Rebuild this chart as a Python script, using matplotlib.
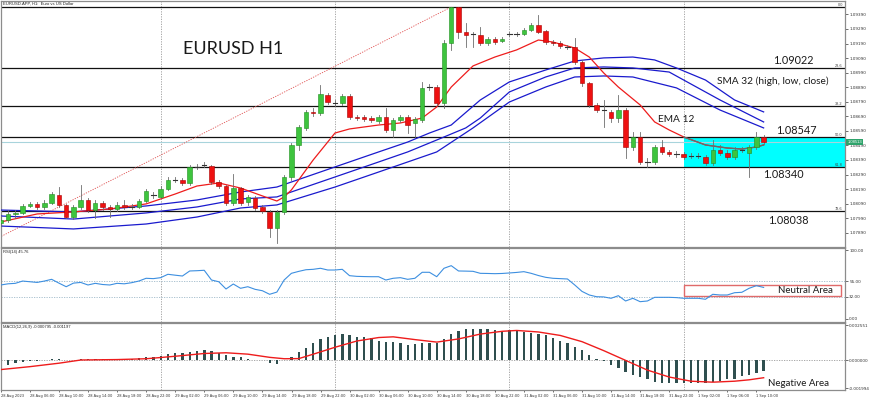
import matplotlib
matplotlib.use('Agg')
import matplotlib.pyplot as plt
from matplotlib.patches import Rectangle

# ---------------- data ----------------
open_ = [1.07957,1.07978,1.08019,1.08026,1.08074,1.08088,1.08067,1.08094,1.08149,1.08081,
         1.07998,1.08067,1.08115,1.08046,1.08094,1.08067,1.08053,1.08081,1.08067,1.08067,
         1.08108,1.08143,1.08136,1.08191,1.08252,1.08252,1.08232,1.08342,1.08355,1.08349,
         1.08239,1.08211,1.08094,1.08197,1.08101,1.08129,1.08067,1.08033,1.07923,1.08033,
         1.08273,1.08493,1.08610,1.08720,1.08713,1.08836,1.08781,1.08781,1.08830,1.08685,
         1.08685,1.08678,1.08658,1.08685,1.08596,1.08665,1.08685,1.08644,1.08665,1.08891,
         1.08891,1.08781,1.09194,1.09441,1.09269,1.09249,1.09249,1.09194,1.09221,1.09207,
         1.09255,1.09255,1.09255,1.09283,1.09317,1.09276,1.09200,1.09194,1.09166,1.09166,
         1.09063,1.08919,1.08768,1.08733,1.08720,1.08678,1.08733,1.08479,1.08548,1.08376,
         1.08376,1.08479,1.08445,1.08431,1.08431,1.08417,1.08417,1.08410,1.08369,1.08458,
         1.08438,1.08410,1.08458,1.08438,1.08479,1.08548]
close = [1.07978,1.08019,1.08026,1.08074,1.08088,1.08067,1.08094,1.08156,1.08081,1.07998,
         1.08067,1.08115,1.08046,1.08094,1.08067,1.08053,1.08081,1.08067,1.08070,1.08108,
         1.08177,1.08146,1.08191,1.08252,1.08255,1.08232,1.08342,1.08345,1.08358,1.08239,
         1.08211,1.08094,1.08197,1.08094,1.08136,1.08060,1.08039,1.07923,1.08033,1.08273,
         1.08493,1.08617,1.08720,1.08713,1.08843,1.08788,1.08784,1.08830,1.08685,1.08678,
         1.08671,1.08665,1.08685,1.08596,1.08665,1.08685,1.08630,1.08671,1.08885,1.08894,
         1.08781,1.09194,1.09441,1.09269,1.09249,1.09252,1.09194,1.09221,1.09200,1.09221,
         1.09258,1.09258,1.09283,1.09317,1.09269,1.09200,1.09194,1.09173,1.09169,1.09063,
         1.08919,1.08768,1.08733,1.08736,1.08678,1.08733,1.08479,1.08548,1.08376,1.08379,
         1.08479,1.08445,1.08431,1.08434,1.08410,1.08420,1.08420,1.08369,1.08458,1.08438,
         1.08410,1.08458,1.08461,1.08479,1.08548,1.08513]
high = [1.08005,1.08046,1.08046,1.08088,1.08101,1.08101,1.08115,1.08170,1.08204,1.08088,
        1.08081,1.08218,1.08129,1.08115,1.08108,1.08081,1.08101,1.08115,1.08088,1.08122,
        1.08191,1.08170,1.08211,1.08273,1.08273,1.08266,1.08355,1.08362,1.08376,1.08355,
        1.08252,1.08218,1.08294,1.08204,1.08149,1.08143,1.08081,1.08046,1.08046,1.08287,
        1.08506,1.08630,1.08733,1.08747,1.08905,1.08850,1.08802,1.08843,1.08843,1.08699,
        1.08699,1.08692,1.08699,1.08747,1.08678,1.08699,1.08699,1.08685,1.08926,1.08912,
        1.08905,1.09214,1.09441,1.09441,1.09331,1.09269,1.09304,1.09235,1.09235,1.09235,
        1.09269,1.09269,1.09297,1.09331,1.09386,1.09283,1.09214,1.09207,1.09180,1.09228,
        1.09077,1.08926,1.08781,1.08802,1.08733,1.08836,1.08747,1.08582,1.08582,1.08404,
        1.08493,1.08527,1.08458,1.08452,1.08445,1.08438,1.08438,1.08424,1.08527,1.08493,
        1.08458,1.08479,1.08479,1.08493,1.08582,1.08561]
low = [1.07936,1.07964,1.07991,1.08019,1.08067,1.08053,1.08053,1.08088,1.08067,1.07991,
       1.07984,1.08053,1.08033,1.07991,1.08046,1.07998,1.08039,1.08053,1.08053,1.08060,
       1.08101,1.08129,1.08129,1.08184,1.08239,1.08218,1.08218,1.08328,1.08342,1.08225,
       1.08197,1.08081,1.08081,1.08081,1.08081,1.08046,1.08026,1.07861,1.07820,1.08019,
       1.08252,1.08458,1.08596,1.08692,1.08699,1.08775,1.08761,1.08768,1.08671,1.08665,
       1.08658,1.08651,1.08644,1.08582,1.08548,1.08651,1.08575,1.08548,1.08651,1.08871,
       1.08768,1.08747,1.09146,1.09228,1.09166,1.09166,1.09180,1.09180,1.09187,1.09200,
       1.09242,1.09242,1.09249,1.09276,1.09262,1.09187,1.09180,1.09159,1.09153,1.09049,
       1.08898,1.08754,1.08720,1.08617,1.08651,1.08651,1.08404,1.08458,1.08362,1.08342,
       1.08362,1.08431,1.08417,1.08410,1.08397,1.08404,1.08404,1.08355,1.08355,1.08424,
       1.08397,1.08397,1.08445,1.08273,1.08465,1.08500]

# EMA 12 (read at selected bars)
ema_idx = [0,5,10,15,20,24,27,30,33,36,38,39,40,43,46,48,52,55,58,60,62,65,68,71,74,76,79,81,83,85,88,90,92,94,97,100,102,104,105]
ema_val = [1.07964,1.08019,1.08033,1.08053,1.08088,1.08156,1.08211,1.08232,1.08197,1.08143,1.08108,1.08136,1.08184,
           1.08390,1.08575,1.08603,1.08630,1.08644,1.08678,1.08754,1.08891,1.09036,1.09097,1.09146,1.09214,1.09200,
           1.09159,1.09097,1.08987,1.08891,1.08768,1.08651,1.08596,1.08548,1.08493,1.08472,1.08465,1.08479,1.08493]

# SMA 32 of high / close / low
smah_idx = [0,10,20,27,33,38,46,52,56,59,62,66,70,75,79,83,87,90,93,97,101,105]
smah_val = [1.08046,1.08033,1.08074,1.08115,1.08170,1.08204,1.08342,1.08445,1.08513,1.08575,1.08630,1.08802,
            1.08926,1.09008,1.09070,1.09091,1.09097,1.09077,1.09022,1.08939,1.08802,1.08720]
smac_idx = [0,10,20,27,33,38,46,52,56,60,64,66,70,75,79,83,87,92,94,99,105]
smac_val = [1.08005,1.07984,1.08026,1.08067,1.08122,1.08136,1.08273,1.08376,1.08445,1.08527,1.08610,1.08678,
            1.08857,1.08960,1.09022,1.09029,1.09022,1.08994,1.08939,1.08802,1.08651]
smal_idx = [0,10,20,27,33,38,46,52,56,60,65,70,75,79,83,87,93,99,105]
smal_val = [1.07936,1.07916,1.07950,1.07998,1.08060,1.08081,1.08204,1.08307,1.08376,1.08445,1.08610,1.08788,
            1.08891,1.08960,1.08967,1.08960,1.08885,1.08733,1.08610]

# Fibonacci retracement
fib_prices = [1.09441, 1.09022, 1.08761, 1.08547, 1.08340, 1.08038]
fib_labels = ['0.0', '23.6', '38.2', '50.0', '61.8', '78.6']
trend_idx = [-8, 62]
trend_val = [1.07660, 1.09441]
last_price = 1.08513

# RSI(14)
rsi = [49.3,51,51.7,55,54,53,55,57.5,52,46.8,52,53,49.3,51.7,50,49.3,51.7,51,52.6,55,
       59,58.5,59.9,64.8,63.5,62.3,69.6,70,70.6,56.5,54,43.5,50.7,44.5,46.8,43,41,35.8,39,56.5,
       66.2,69,71.4,72,73.5,71,71,72,62.8,61.8,61.5,61.3,61.3,56.5,59,59.9,57.5,59,67.7,67.7,
       61.3,73.5,77.3,69.6,69.4,69.1,66.2,66,65.7,66,66.7,67.5,68.6,66.2,63,60.4,59,58.5,58,49.3,
       40,34.8,32.3,32,30,33.8,26.1,30,25.1,26.1,31.4,31.4,31.4,31,30,30,30,28.6,35.8,34.8,
       34.8,38.1,38.7,44.5,48.3,45.76]
rsi_levels = [55.0, 32.0]

# MACD(12,26,9)
macd = [-0.00031,-0.00031,-0.00019,-0.00014,-0.00007,-0.00002,0.00002,0.00012,0.00009,0.00005,
        0.00005,0.00009,0.00009,0.00007,0.00009,0.00007,0.00009,0.00009,0.00012,0.00017,
        0.00024,0.00028,0.00035,0.00045,0.00052,0.00057,0.00064,0.00071,0.00076,0.00069,
        0.00052,0.00040,0.00028,0.00021,0.00012,0.00005,0.00001,-0.00019,-0.00024,0.00001,
        0.00021,0.00059,0.00092,0.00123,0.00151,0.00170,0.00182,0.00189,0.00182,0.00170,
        0.00170,0.00165,0.00142,0.00135,0.00130,0.00123,0.00111,0.00118,0.00123,0.00128,
        0.00123,0.00151,0.00194,0.00213,0.00224,0.00229,0.00229,0.00224,0.00217,0.00210,
        0.00217,0.00213,0.00206,0.00198,0.00194,0.00182,0.00165,0.00142,0.00123,0.00099,
        0.00076,0.00040,0.00009,-0.00007,-0.00031,-0.00054,-0.00085,-0.00102,-0.00118,-0.00137,
        -0.00154,-0.00161,-0.00161,-0.00161,-0.00165,-0.00165,-0.00161,-0.00161,-0.00154,-0.00149,
        -0.00137,-0.00132,-0.00113,-0.00102,-0.00090,-0.00078]
sig_idx = [0,4,8,11,16,20,24,28,31,34,37,39,41,43,46,49,52,54,57,60,63,66,69,71,74,77,80,83,86,89,92,95,98,101,103,105]
sig_val = [-0.00066,-0.00045,-0.00020,0.00003,0.00006,0.00012,0.00030,0.00050,0.00055,0.00045,0.00022,0.00012,
           0.00013,0.00045,0.00095,0.00140,0.00165,0.00170,0.00150,0.00132,0.00155,0.00190,0.00210,0.00216,
           0.00205,0.00180,0.00135,0.00070,0.00000,-0.00070,-0.00120,-0.00150,-0.00157,-0.00150,-0.00140,-0.00125]

time_labels = ['28 Aug 2023','28 Aug 06:00','28 Aug 10:00','28 Aug 14:00','28 Aug 18:00','28 Aug 22:00',
               '29 Aug 02:00','29 Aug 06:00','29 Aug 10:00','29 Aug 14:00','29 Aug 18:00','29 Aug 22:00',
               '30 Aug 02:00','30 Aug 06:00','30 Aug 10:00','30 Aug 14:00','30 Aug 18:00','30 Aug 22:00',
               '31 Aug 02:00','31 Aug 06:00','31 Aug 10:00','31 Aug 14:00','31 Aug 18:00','31 Aug 22:00',
               '1 Sep 02:00','1 Sep 06:00','1 Sep 10:00']
day_lines = [22, 46, 70, 94]
price_ticks = [1.07890,1.07990,1.08090,1.08190,1.08290,1.08390,1.08490,1.08590,1.08690,1.08790,
               1.08890,1.08990,1.09090,1.09190,1.09290,1.09390]
macd_ticks = [0.002551, 0.0, -0.001994]

# ---------------- figure ----------------
W, H = 870, 400
fig = plt.figure(figsize=(W/100, H/100), dpi=100)

def px_axes(x0, y0, x1, y1):
    return fig.add_axes([x0/W, 1-y1/H, (x1-x0)/W, (y1-y0)/H])

ax = px_axes(1, 1, 845, 247)
ax_r = px_axes(1, 248, 845, 322)
ax_m = px_axes(1, 323, 845, 390)

XL = (0.0275, 116.2)
tiny = dict(fontsize=3.0, color='#222222', family='Liberation Sans')
for a in (ax, ax_r, ax_m):
    a.set_xlim(*XL)
    for s in a.spines.values():
        s.set_color('#8c8c8c'); s.set_linewidth(0.9)
    a.yaxis.tick_right()
    a.tick_params(axis='y', length=2, width=0.5, pad=1, labelsize=3.0, colors='#333333')
    a.tick_params(axis='x', length=0)
    a.set_xticks([])
    for d in day_lines:
        a.axvline(d, color='#9a9a9a', lw=0.6, ls=(0, (1.5, 1.5)), zorder=1)

# ---- main price panel ----
ax.set_ylim(1.07792, 1.09482)
n = len(close)
for p in fib_prices:
    ax.axhline(p, color='#111111', lw=0.9, zorder=2)
for p, lab in zip(fib_prices, fib_labels):
    ax.text(115.9, p, lab, fontsize=2.8, color='#444444', ha='right', va='bottom',
            family='Liberation Sans', zorder=6)
ax.add_patch(Rectangle((94, fib_prices[4]), XL[1]-94, fib_prices[3]-fib_prices[4],
                       facecolor='#00ffff', edgecolor='none', zorder=1.5))
ax.plot(trend_idx, trend_val, color='#e05050', lw=0.6, ls=(0, (1.5, 1.5)), zorder=2)
ax.axhline(last_price, color='#a8d4dc', lw=0.8, zorder=1.8)

for idx, val in ((smah_idx, smah_val), (smac_idx, smac_val), (smal_idx, smal_val)):
    ax.plot(idx, val, color='#1a1acd', lw=0.9, zorder=3)
ax.plot(ema_idx, ema_val, color='#ee1c1c', lw=0.9, zorder=3)
k = ema_idx.index(94)
ax.plot(ema_idx[k:], ema_val[k:], color='#6a6a6a', lw=0.9, zorder=3.1)

bw = 0.62
for i in range(n):
    o, c, h, l = open_[i], close[i], high[i], low[i]
    ax.plot([i, i], [l, h], color='#6e6e6e', lw=0.6, zorder=4)
    if abs(c - o) < 0.00005:
        ax.plot([i-bw/2, i+bw/2], [c, c], color='#333333', lw=0.8, zorder=5)
    else:
        up = c > o
        fc = '#3ec43e' if up else '#ee1111'
        ec = '#1f8f1f' if up else '#a80000'
        ax.add_patch(Rectangle((i-bw/2, min(o, c)), bw, abs(c-o), facecolor=fc,
                               edgecolor=ec, lw=0.4, zorder=5))

ax.set_yticks(price_ticks)
ax.set_yticklabels(['%.5f' % v for v in price_ticks])
ax.text(1.003, last_price, '%.5f' % last_price, transform=ax.get_yaxis_transform(),
        fontsize=3.0, color='white', va='center', ha='left', family='Liberation Sans',
        bbox=dict(boxstyle='square,pad=0.25', facecolor='#2fa36b', edgecolor='none'), clip_on=False)

# ---- RSI panel ----
ax_r.set_ylim(-4.35, 102.9)
for lv in rsi_levels:
    ax_r.axhline(lv, color='#9fb9c9', lw=0.6, ls=(0, (1.5, 1.5)), zorder=1)
ax_r.add_patch(Rectangle((94, 33.3), 115.6-94, 49.3-33.3, facecolor='white',
                         edgecolor='#e06a6a', lw=1.0, zorder=2))
ax_r.plot(range(n), rsi, color='#3d8fe0', lw=0.8, zorder=3)
ax_r.set_yticks([100] + rsi_levels + [0])
ax_r.set_yticklabels(['100.00'] + ['%.2f' % v for v in rsi_levels] + ['0.00'])

# ---- MACD panel ----
ax_m.set_ylim(-0.002135, 0.002698)
ax_m.axhline(0, color='#9a9a9a', lw=0.6, ls=(0, (1.5, 1.5)), zorder=1)
ax_m.bar(range(n), macd, width=0.32, color='#2f4f4f', zorder=2)
ax_m.plot(sig_idx, sig_val, color='#ee1c1c', lw=1.0, zorder=3)
ax_m.set_yticks(macd_ticks)
ax_m.set_yticklabels(['%.6f' % v for v in macd_ticks])
ax_m.set_xticks(list(range(0, 105, 4)))
ax_m.set_xticklabels(time_labels)
ax_m.tick_params(axis='x', length=1.5, width=0.5, pad=1.5, labelsize=2.6, colors='#333333')
for t in ax_m.get_xticklabels():
    t.set_ha('left')

# ---- texts ----
def ftext(x, y, s, **kw):
    fig.text(x/W, 1-y/H, s, va='center', ha='left', **kw)

lato = dict(family='Lato', color='#1a1a1a')
ftext(3, 4, 'EURUSD.APP, H1:  Euro vs US Dollar', **tiny)
ftext(3, 252, 'RSI(14) 45.76', **tiny)
ftext(3, 327, 'MACD(12,26,9) -0.000795 -0.001197', **tiny)
ftext(183, 49, 'EURUSD H1', fontsize=13, **lato)
ftext(773, 61, '1.09022', fontsize=7.8, **lato)
ftext(717, 81, 'SMA 32 (high, low, close)', fontsize=7.3, **lato)
ftext(658, 119, 'EMA 12', fontsize=7.3, **lato)
ftext(776, 130, '1.08547', fontsize=7.8, **lato)
ftext(763, 175, '1.08340', fontsize=7.8, **lato)
ftext(768, 220, '1.08038', fontsize=7.8, **lato)
ftext(778, 290.5, 'Neutral Area', fontsize=7.0, **lato)
ftext(768, 383, 'Negative Area', fontsize=7.0, **lato)

fig.savefig('out.png', dpi=100)
